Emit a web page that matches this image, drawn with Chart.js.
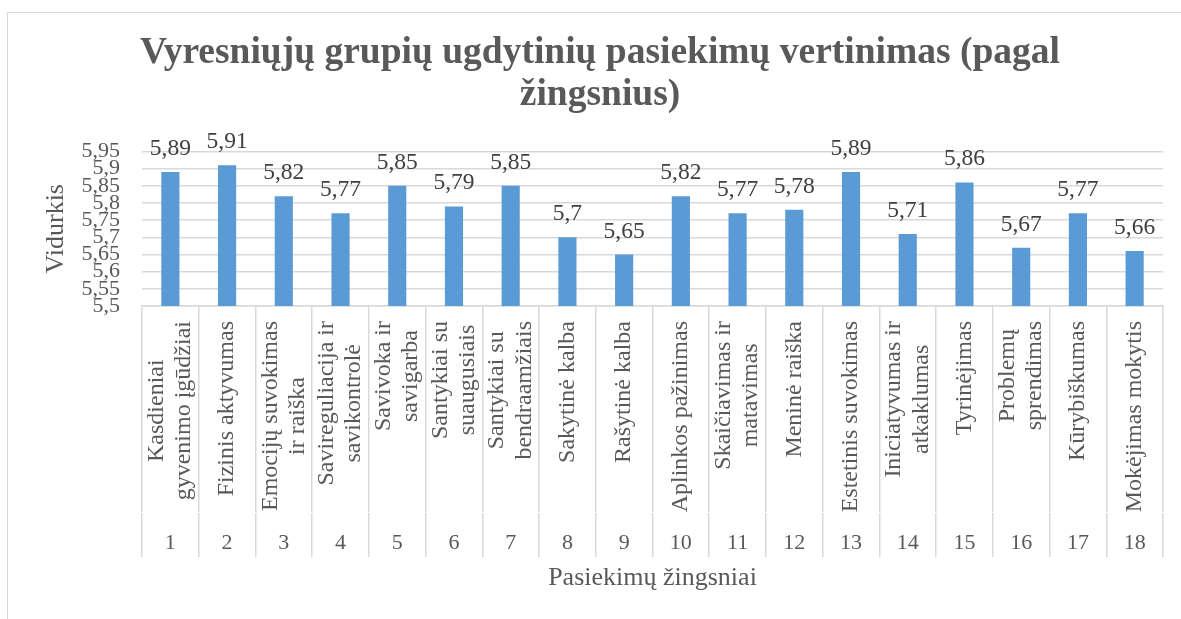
<!DOCTYPE html>
<html>
<head>
<meta charset="utf-8">
<script src="https://cdn.jsdelivr.net/npm/chart.js@4.4.1/dist/chart.umd.min.js"></script>
<style>
  html, body { margin: 0; padding: 0; background: #fff; overflow: hidden; }
  #frame { position: absolute; left: 7px; top: 12px; width: 1300px; height: 700px;
           border-left: 1.5px solid #d9d9d9; border-top: 1.5px solid #d9d9d9; }
  #chart { position: absolute; left: 0; top: 0; }
</style>
</head>
<body>
<div id="frame"></div>
<canvas id="chart" width="1181" height="619"></canvas>
<script>
const categories = [
  ["Kasdieniai", "gyvenimo įgūdžiai"],
  "Fizinis aktyvumas",
  ["Emocijų suvokimas", "ir raiška"],
  ["Savireguliacija ir", "savikontrolė"],
  ["Savivoka ir", "savigarba"],
  ["Santykiai su", "suaugusiais"],
  ["Santykiai su", "bendraamžiais"],
  "Sakytinė kalba",
  "Rašytinė kalba",
  "Aplinkos pažinimas",
  ["Skaičiavimas ir", "matavimas"],
  "Meninė raiška",
  "Estetinis suvokimas",
  ["Iniciatyvumas ir", "atkaklumas"],
  "Tyrinėjimas",
  ["Problemų", "sprendimas"],
  "Kūrybiškumas",
  "Mokėjimas mokytis"
];
const stepNumbers = ["1", "2", "3", "4", "5", "6", "7", "8", "9", "10", "11", "12", "13", "14", "15", "16", "17", "18"];
const averages = [5.89, 5.91, 5.82, 5.77, 5.85, 5.79, 5.85, 5.7, 5.65, 5.82, 5.77, 5.78, 5.89, 5.71, 5.86, 5.67, 5.77, 5.66];
const yMin = 5.5;
const yMax = 5.95;
const yStep = 0.05;

const FONT = '"Liberation Serif", "Times New Roman", serif';
const TEXT = "#595959";
const GRID = "#d9d9d9";

Chart.defaults.font.family = FONT;

const fmt = v => String(Math.round(v * 100) / 100).replace(".", ",");

// Excel centres the wrapped lines of rotated labels; Chart.js right-aligns them
const centerRotatedLabels = {
  id: "centerRotatedLabels",
  beforeDraw(chart) {
    const scale = chart.scales.x;
    const ctx = chart.ctx;
    scale.getLabelItems(chart.chartArea).forEach(item => {
      if (item._centered) return;
      const lines = Array.isArray(item.label) ? item.label : [item.label];
      ctx.save();
      ctx.font = item.font.string;
      const maxW = Math.max(...lines.map(l => ctx.measureText(l).width));
      ctx.restore();
      item.options.textAlign = "center";
      item.options.translation[0] -= (lines.length - 1) * item.font.lineHeight / 2;
      item.options.translation[1] += maxW / 2;
      item._centered = true;
    });
  }
};

const valueLabels = {
  id: "valueLabels",
  afterDatasetsDraw(chart) {
    const ctx = chart.ctx;
    ctx.save();
    ctx.font = "23.5px " + FONT;
    ctx.fillStyle = "#404040";
    ctx.textAlign = "center";
    ctx.textBaseline = "alphabetic";
    chart.getDatasetMeta(0).data.forEach((bar, i) => {
      ctx.fillText(fmt(averages[i]), bar.x, bar.y - 17);
    });
    ctx.restore();
  }
};

new Chart(document.getElementById("chart"), {
  type: "bar",
  data: {
    labels: categories,
    datasets: [{
      label: "Vidurkis",
      data: averages,
      backgroundColor: "#5b9bd5",
      barPercentage: 0.32,
      categoryPercentage: 1
    }]
  },
  options: {
    responsive: false,
    animation: false,
    layout: { padding: { left: 37, right: 18, top: 0, bottom: 0 } },
    plugins: {
      legend: { display: false },
      tooltip: { enabled: false },
      title: {
        display: true,
        text: ["Vyresniųjų grupių ugdytinių pasiekimų vertinimas (pagal", "žingsnius)"],
        color: TEXT,
        font: { size: 37.5, weight: "bold", lineHeight: 1.1 },
        padding: { top: 33, bottom: 36 }
      }
    },
    scales: {
      y: {
        min: yMin,
        max: yMax,
        ticks: {
          stepSize: yStep,
          autoSkip: false,
          padding: 22,
          color: TEXT,
          font: { size: 22 },
          callback: v => fmt(v)
        },
        grid: { color: GRID, lineWidth: 1.5, drawTicks: false },
        border: { display: false },
        title: {
          display: true,
          text: "Vidurkis",
          color: TEXT,
          font: { size: 26 },
          padding: { top: 4, bottom: 0 }
        },
        afterFit(scale) {
          scale.width = 105;
          scale.paddingTop = 0;
          scale.paddingBottom = 0;
        }
      },
      x: {
        offset: true,
        weight: 0,
        grid: {
          offset: true,
          drawOnChartArea: false,
          tickLength: 206,
          color: GRID,
          lineWidth: 1.5
        },
        border: { display: true, color: GRID, width: 1.5 },
        ticks: {
          autoSkip: false,
          minRotation: 90,
          maxRotation: 90,
          padding: 15 - 206,
          color: TEXT,
          font: { size: 24, lineHeight: 1.13 }
        },
        afterFit(scale) {
          scale.height = 207;
          scale.paddingLeft = 0;
          scale.paddingRight = 0;
        }
      },
      x2: {
        type: "category",
        labels: stepNumbers,
        position: "bottom",
        offset: true,
        weight: 1,
        grid: {
          offset: true,
          drawOnChartArea: false,
          tickLength: 44,
          color: GRID,
          lineWidth: 1.5
        },
        border: { display: false },
        ticks: {
          autoSkip: false,
          maxRotation: 0,
          padding: 17 - 44,
          color: TEXT,
          font: { size: 22 }
        },
        title: {
          display: true,
          text: "Pasiekimų žingsniai",
          color: TEXT,
          font: { size: 26 },
          padding: { top: 0, bottom: 25 }
        },
        afterFit(scale) {
          scale.height = 106;
          scale.paddingLeft = 0;
          scale.paddingRight = 0;
        }
      }
    }
  },
  plugins: [centerRotatedLabels, valueLabels]
});
</script>
</body>
</html>
